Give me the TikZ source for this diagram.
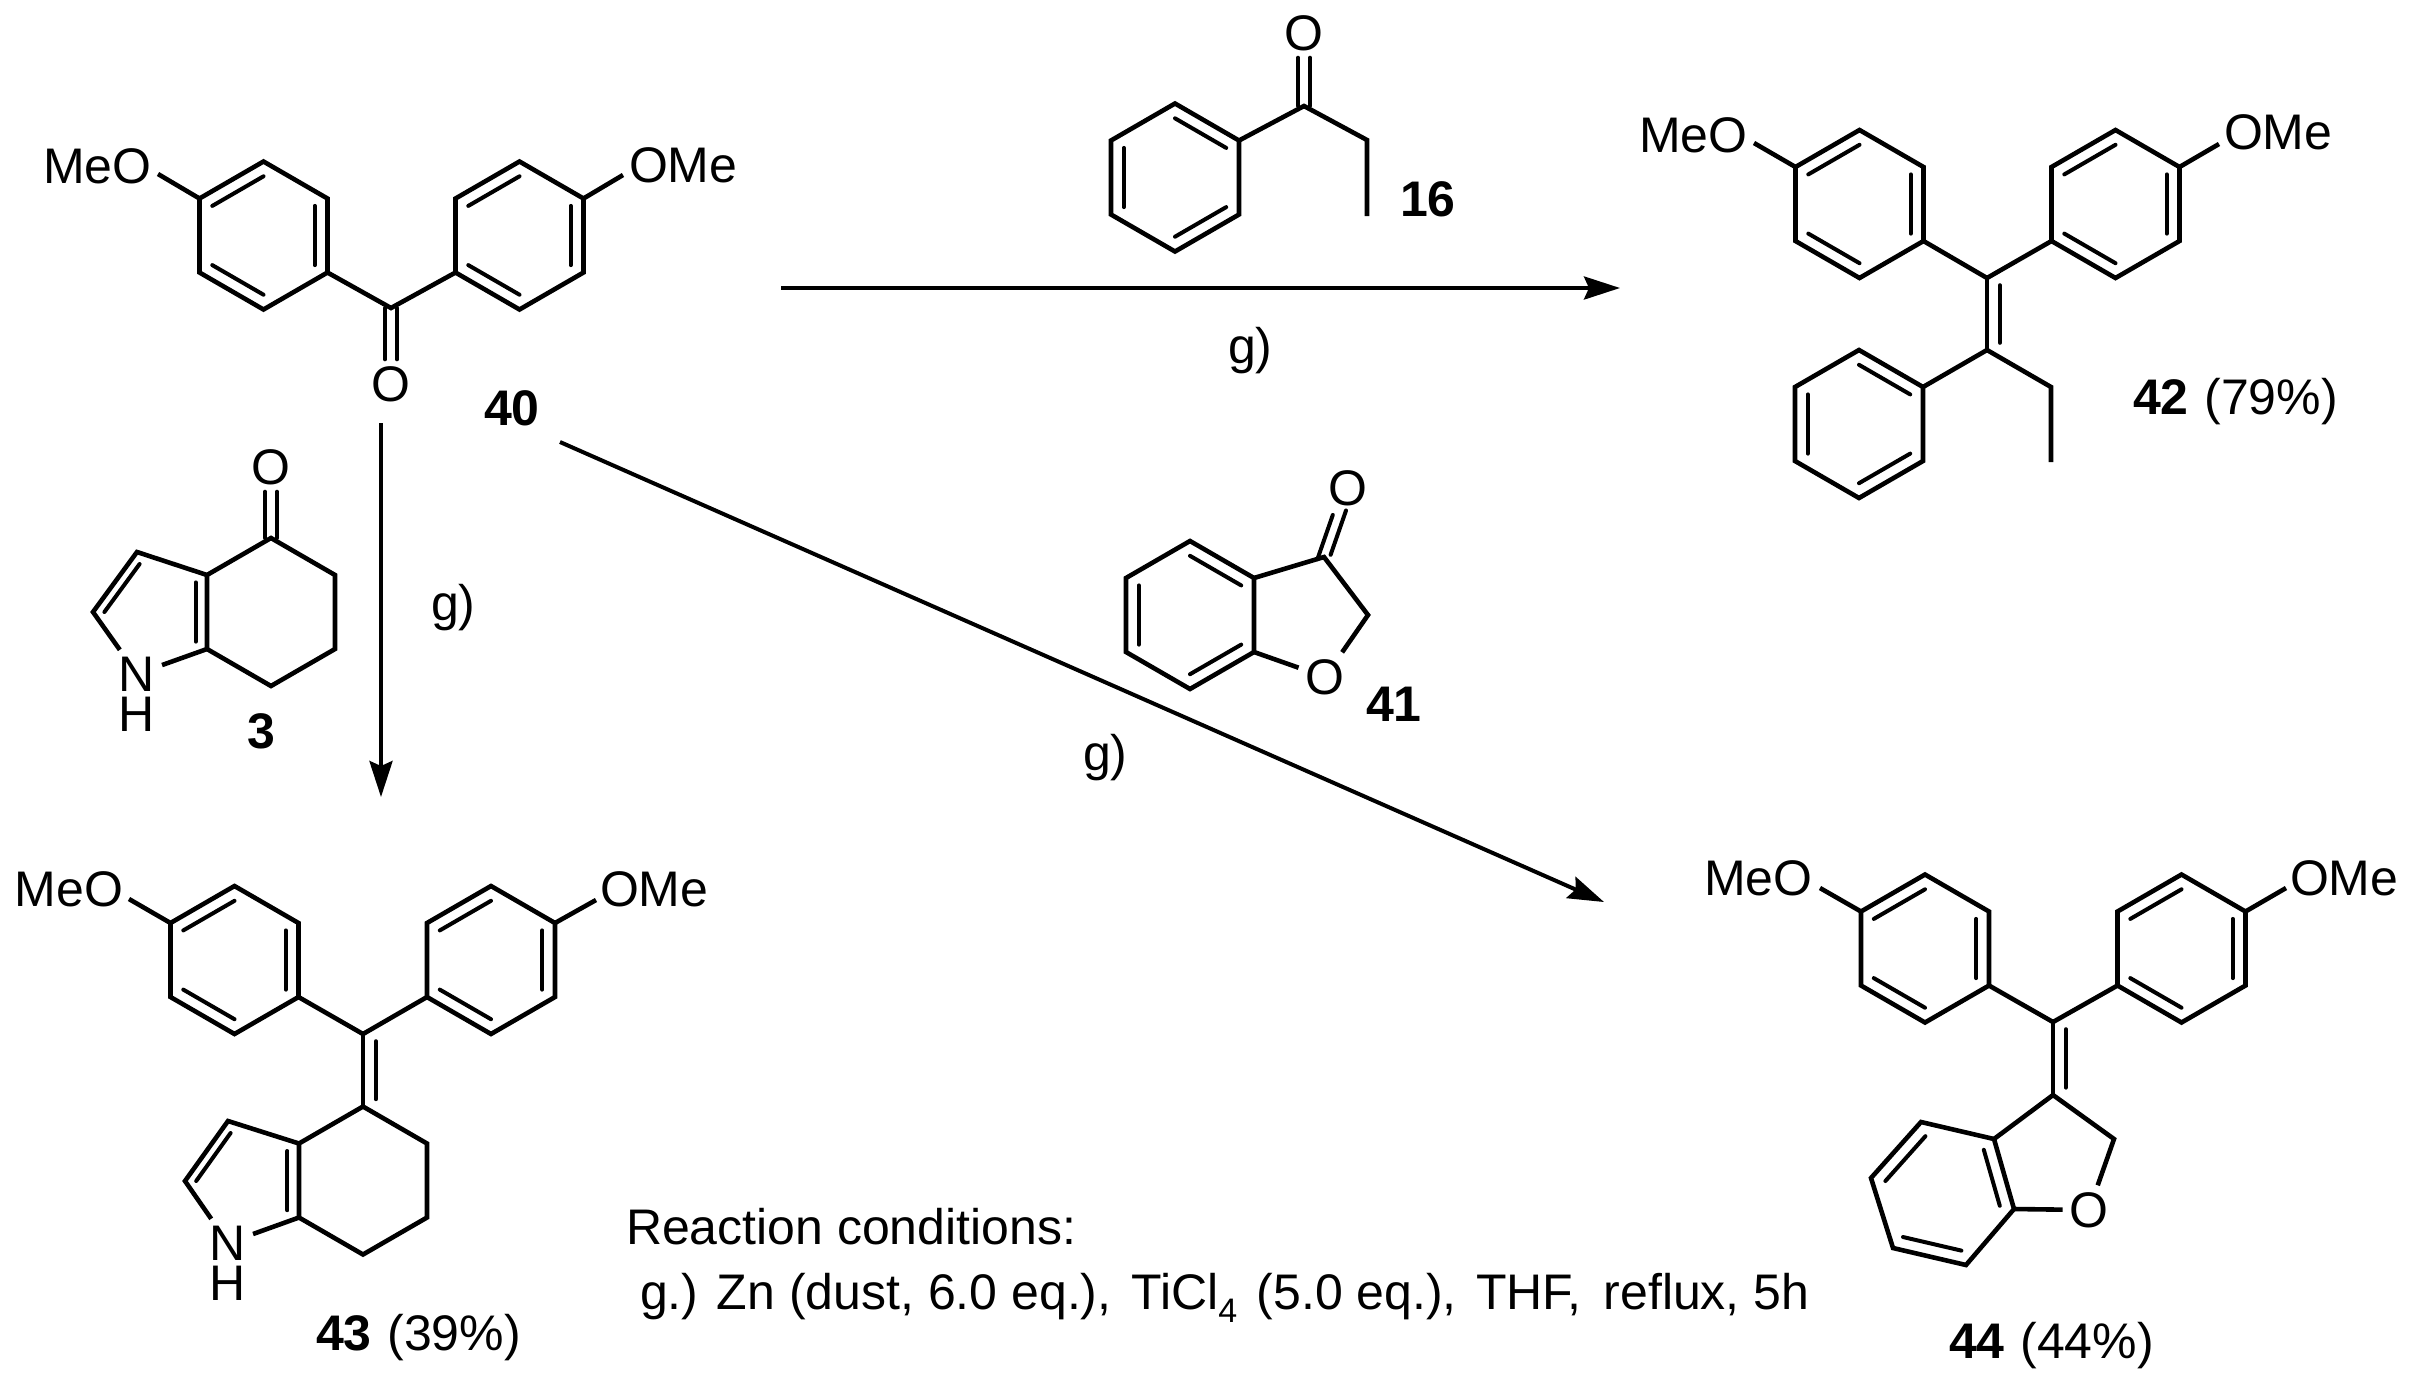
\documentclass[tikz,border=0pt]{standalone}
\usepackage{fontspec}
\setmainfont{Liberation Sans}
\usetikzlibrary{arrows.meta, calc, positioning}

\newcommand{\chemfont}{\fontsize{25}{30}\selectfont}
\newcommand{\ringsix}[4]{
    \coordinate (#1c) at (#2,#3);
    \coordinate (#1t) at (#2,#3-#4);
    \coordinate (#1ur) at (#2+64,#3-#4/2);
    \coordinate (#1lr) at (#2+64,#3+#4/2);
    \coordinate (#1b) at (#2,#3+#4);
    \coordinate (#1ll) at (#2-64,#3+#4/2);
    \coordinate (#1ul) at (#2-64,#3-#4/2);
    \draw[bond] (#1t) -- (#1ur) -- (#1lr) -- (#1b) -- (#1ll) -- (#1ul) -- cycle;
}
\newcommand{\dblin}[3]{\draw[innerbond] ($(#1)!.2!(#3)$) -- ($(#2)!.2!(#3)$);}
\newcommand{\kekA}[1]{
    \dblin{#1ul}{#1t}{#1c}
    \dblin{#1ur}{#1lr}{#1c}
    \dblin{#1ll}{#1b}{#1c}
}
\newcommand{\kekB}[1]{
    \dblin{#1t}{#1ur}{#1c}
    \dblin{#1ul}{#1ll}{#1c}
    \dblin{#1lr}{#1b}{#1c}
}

\begin{document}
\begin{tikzpicture}[x=0.5pt,y=-0.5pt,
    bond/.style={line width=2.3pt},
    innerbond/.style={line width=2pt,line cap=round},
    arr/.style={line width=2pt,-{Stealth[length=18pt,width=11.5pt,inset=2.5pt]}},
    atom/.style={inner sep=0pt,outer sep=3.5pt,font=\chemfont},
    txt/.style={inner sep=0pt,outer sep=0pt,font=\chemfont,anchor=base west}]
    \useasboundingbox (0,0) rectangle (2411,1378);

    \ringsix{a40}{263.5}{235.5}{74}
    \ringsix{b40}{519.5}{235.5}{74}
    \kekA{a40}
    \kekA{b40}
    \coordinate (c40) at (391,308);
    \node[atom] (o40) at (391,384) {O};
    \draw[bond] (a40lr) -- (c40) -- (b40ll);
    \draw[innerbond,transform canvas={xshift=-3pt}] (c40) -- (o40);
    \draw[innerbond,transform canvas={xshift=3pt}] (c40) -- (o40);
    \node[txt] (meo40) at (43,183) {MeO};
    \node[txt] (ome40) at (629,182) {OMe};
    \coordinate (m40) at (158,174);
    \coordinate (n40) at (623,175);
    \draw[bond] (m40) -- (a40ul);
    \draw[bond] (n40) -- (b40ur);
    \node[txt] (lab40) at (484,425) {\bfseries 40};

    \ringsix{a16}{1175}{177.5}{74}
    \kekB{a16}
    \coordinate (c16) at (1304,106);
    \coordinate (d16) at (1367,140);
    \coordinate (e16) at (1367,216);
    \node[atom] (o16) at (1304,33) {O};
    \draw[bond] (a16ur) -- (c16) -- (d16) -- (e16);
    \draw[innerbond,transform canvas={xshift=-3pt}] (c16) -- (o16);
    \draw[innerbond,transform canvas={xshift=3pt}] (c16) -- (o16);
    \node[txt] (lab16) at (1400,216) {\bfseries 16};

    \ringsix{a42}{1859.5}{204}{74}
    \ringsix{b42}{2115.5}{204}{74}
    \ringsix{p42}{1859}{424}{74}
    \kekA{a42}
    \kekA{b42}
    \kekB{p42}
    \coordinate (c42) at (1987,278);
    \coordinate (d42) at (1987,350);
    \coordinate (e42) at (2051,387);
    \coordinate (f42) at (2051,462);
    \coordinate (k42) at (2051,314);
    \draw[bond] (a42lr) -- (c42) -- (b42ll);
    \draw[bond] (c42) -- (d42);
    \dblin{c42}{d42}{k42}
    \draw[bond] (p42ur) -- (d42) -- (e42) -- (f42);
    \node[txt] (meo42) at (1639,152) {MeO};
    \node[txt] (ome42) at (2224,149) {OMe};
    \coordinate (m42) at (1754,143);
    \coordinate (n42) at (2219,144);
    \draw[bond] (m42) -- (a42ul);
    \draw[bond] (n42) -- (b42ur);
    \node[txt] (lab42) at (2133,414) {\textbf{42}\hspace{1pt} (79\%)};

    \ringsix{h3}{271}{612}{74}
    \coordinate (p3) at (150,612);
    \coordinate (q3) at (137,552);
    \coordinate (r3) at (93,612);
    \node[atom] (n3) at (137,674) {N};
    \node[atom] (nh3) [below=-4pt of n3] {H};
    \node[atom] (o3) at (271,467) {O};
    \draw[bond] (h3ul) -- (q3) -- (r3) -- (n3) -- (h3ll);
    \dblin{q3}{r3}{p3}
    \dblin{h3ul}{h3ll}{p3}
    \draw[innerbond,transform canvas={xshift=-3pt}] (h3t) -- (o3);
    \draw[innerbond,transform canvas={xshift=3pt}] (h3t) -- (o3);
    \node[txt] (lab3) at (247,748) {\bfseries 3};

    \ringsix{a43}{234.5}{960}{74}
    \ringsix{b43}{491}{960}{74}
    \ringsix{h43}{363}{1180.5}{74}
    \kekA{a43}
    \kekA{b43}
    \coordinate (c43) at (363,1034);
    \coordinate (k43) at (427,1070);
    \coordinate (p43) at (241,1181);
    \coordinate (q43) at (228,1121);
    \coordinate (r43) at (185,1181);
    \draw[bond] (a43lr) -- (c43) -- (b43ll);
    \draw[bond] (c43) -- (h43t);
    \dblin{c43}{h43t}{k43}
    \node[atom] (n43) at (228,1243) {N};
    \node[atom] (nh43) [below=-4pt of n43] {H};
    \draw[bond] (h43ul) -- (q43) -- (r43) -- (n43) -- (h43ll);
    \dblin{q43}{r43}{p43}
    \dblin{h43ul}{h43ll}{p43}
    \node[txt] (meo43) at (15,906) {MeO};
    \node[txt] (ome43) at (600,906) {OMe};
    \coordinate (m43) at (129,899);
    \coordinate (n43b) at (596,900);
    \draw[bond] (m43) -- (a43ul);
    \draw[bond] (n43b) -- (b43ur);
    \node[txt] (lab43) at (316,1350) {\textbf{43}\hspace{1pt} (39\%)};

    \ringsix{a41}{1190}{615}{74}
    \kekB{a41}
    \coordinate (c41) at (1324,557);
    \coordinate (d41) at (1368,615);
    \node[atom] (o41) at (1325,677) {O};
    \node[atom] (p41) at (1348,488) {O};
    \draw[bond] (a41ur) -- (c41) -- (d41) -- (o41) -- (a41lr);
    \draw[innerbond,transform canvas={xshift=-3.3pt,yshift=-1.1pt}] (c41) -- (p41);
    \draw[innerbond,transform canvas={xshift=3.3pt,yshift=1.1pt}] (c41) -- (p41);
    \node[txt] (lab41) at (1366,721) {\bfseries 41};

    \ringsix{a44}{1925}{948.5}{74}
    \ringsix{b44}{2181.5}{948.5}{74}
    \kekA{a44}
    \kekA{b44}
    \coordinate (c44) at (2053,1022);
    \coordinate (d44) at (2053,1095);
    \coordinate (k44) at (2117,1058);
    \coordinate (e44) at (2114,1139);
    \coordinate (f1) at (1994,1139);
    \coordinate (f2) at (1921,1122);
    \coordinate (f3) at (1871,1178);
    \coordinate (f4) at (1893,1248);
    \coordinate (f5) at (1966,1265);
    \coordinate (f6) at (2014,1209);
    \coordinate (fc) at (1943,1193);
    \node[atom] (o44) at (2089,1210) {O};
    \draw[bond] (a44lr) -- (c44) -- (b44ll);
    \draw[bond] (c44) -- (d44);
    \dblin{c44}{d44}{k44}
    \draw[bond] (f1) -- (d44) -- (e44) -- (o44) -- (f6);
    \draw[bond] (f1) -- (f2) -- (f3) -- (f4) -- (f5) -- (f6) -- cycle;
    \dblin{f1}{f6}{fc}
    \dblin{f2}{f3}{fc}
    \dblin{f4}{f5}{fc}
    \node[txt] (meo44) at (1704,895) {MeO};
    \node[txt] (ome44) at (2290,895) {OMe};
    \coordinate (m44) at (1820,888);
    \coordinate (n44) at (2286,888);
    \draw[bond] (m44) -- (a44ul);
    \draw[bond] (n44) -- (b44ur);
    \node[txt] (lab44) at (1949,1358) {\textbf{44}\hspace{1pt} (44\%)};

    \coordinate (s1) at (781,288);
    \coordinate (e1) at (1620,288);
    \coordinate (s2) at (381,423);
    \coordinate (e2) at (381,797);
    \coordinate (s3) at (560,442);
    \coordinate (e3) at (1604,902);
    \draw[arr] (s1) -- (e1);
    \draw[arr] (s2) -- (e2);
    \draw[arr] (s3) -- (e3);
    \node[txt] (g1) at (1228,363) {g)};
    \node[txt] (g2) at (431,620) {g)};
    \node[txt] (g3) at (1083,770) {g)};

    \node[txt] (cond1) at (626,1244) {Reaction conditions:};
    \node[txt] (cond2) at (640,1309) {g.) Zn (dust, 6.0 eq.),\hspace{3pt} TiCl\raisebox{-6.5pt}{\fontsize{17}{20}\selectfont 4}\hspace{2.8pt} (5.0 eq.),\hspace{2.7pt} THF,\hspace{11pt}reflux, 5h};
\end{tikzpicture}
\end{document}
